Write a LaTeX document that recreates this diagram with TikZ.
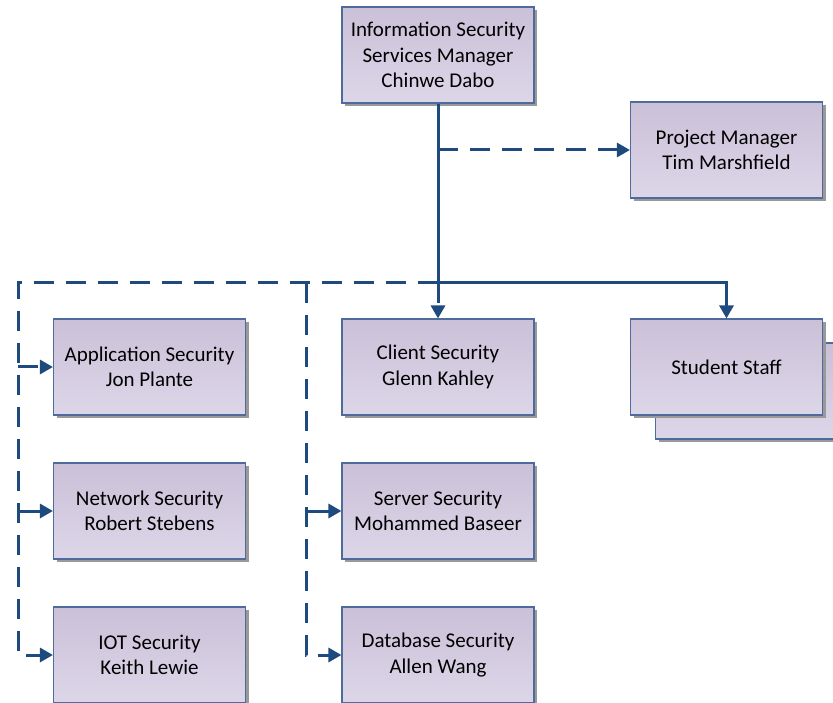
\documentclass[tikz,border=0pt]{standalone}
\usepackage{fontspec}
\setmainfont{Carlito}
\usetikzlibrary{arrows.meta,shadows}
\definecolor{linkblue}{HTML}{1F4A7E}
\definecolor{boxedge}{HTML}{4F6B9B}
\definecolor{boxtop}{HTML}{CAC0D8}
\definecolor{boxbottom}{HTML}{DDD6E8}
\begin{document}
\begin{tikzpicture}[x=1pt,y=-1pt,
  role/.style={draw=boxedge, line width=1.1pt, top color=boxtop, bottom color=boxbottom,
    minimum width=192pt, minimum height=96pt, inner sep=0pt, align=center,
    font=\fontsize{21}{25.5}\selectfont,
    drop shadow={shadow xshift=3pt, shadow yshift=-3pt, fill=black!40, opacity=1}},
  link/.style={draw=linkblue, line width=3pt},
  dashlink/.style={link, dash pattern=on 20pt off 12pt},
  tip/.style={-{Triangle[length=13pt,width=14pt]}}
]
% page area
\clip (0,0) rectangle (833,703);
\fill[white] (0,0) rectangle (833,703);

% boxes
\node[role] (mgr) at (438,55) {Information Security\\Services Manager\\Chinwe Dabo};
\node[role] (pm) at (726.5,150) {Project Manager\\Tim Marshfield};

\node[role] (stackback) at (751.5,391) {};
\node[role] (student) at (726.5,367) {Student Staff};

\node[role] (app) at (149.5,367) {Application Security\\Jon Plante};
\node[role] (client) at (438,367) {Client Security\\Glenn Kahley};
\node[role] (net) at (149.5,511) {Network Security\\Robert Stebens};
\node[role] (server) at (438,511) {Server Security\\Mohammed Baseer};
\node[role] (iot) at (149.5,655) {IOT Security\\Keith Lewie};
\node[role] (db) at (438,655) {Database Security\\Allen Wang};

% junction points of the connectors
\coordinate (hub) at (438,283);
\coordinate (pmj) at (438,150);
\coordinate (lx) at (18,283);
\coordinate (mx) at (306,283);

% solid reporting line
\draw[link, tip] (mgr.south) -- (hub) -| (student.north);

% dotted-line reports
\draw[dashlink, tip] (pmj) -- (pm.west);
\draw[dashlink, tip] (hub) -- (client.north);
\draw[dashlink, tip] (hub) -- (lx) |- (iot.west);
\draw[dashlink, tip] (lx |- app.west) -- (app.west);
\draw[link, tip] (lx |- net.west) -- (net.west);
\draw[dashlink, tip] (mx) |- (db.west);
\draw[link, tip] (mx |- server.west) -- (server.west);
\end{tikzpicture}
\end{document}
